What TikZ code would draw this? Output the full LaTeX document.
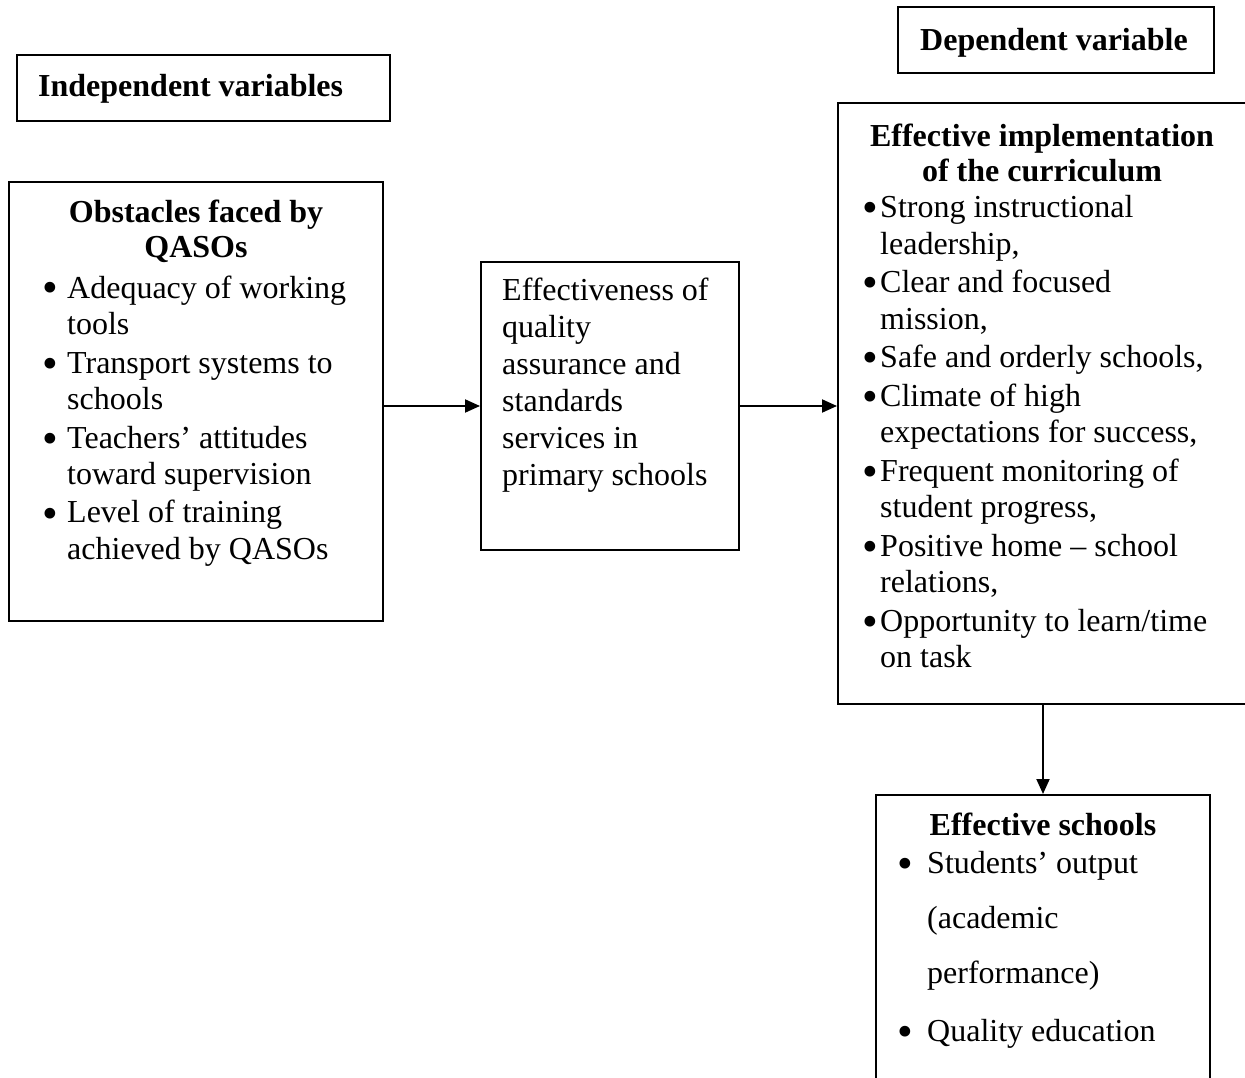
\documentclass[tikz,border=0pt]{standalone}
\usepackage{fontspec}
\usepackage{graphicx}
\setmainfont{Liberation Serif}
\usetikzlibrary{arrows.meta}
\newcommand{\bigbul}{\raisebox{-5pt}{\scalebox{1.4}{\textbullet}}}
\newcommand{\bx}[2]{\makebox[#1][l]{\hspace{-3pt}\bigbul}#2}
\begin{document}
\begin{tikzpicture}[x=1pt,y=-1pt,
  frame/.style={draw,line width=2pt,inner sep=0pt},
  txt/.style={inner sep=0pt,anchor=base west},
  ttl/.style={inner sep=0pt,anchor=base},
  conn/.style={line width=2pt,-{Triangle[length=15pt,width=13pt]}}]
\useasboundingbox (0,0) rectangle (1245,1078);
\clip (0,0) rectangle (1245,1078);
\fill[white] (0,0) rectangle (1245,1078);
% boxes
\node[frame,minimum width=373pt,minimum height=66pt] (indep) at (203.5,88) {};
\node[frame,minimum width=316pt,minimum height=66pt] (dep) at (1056,40) {};
\node[frame,minimum width=374pt,minimum height=439pt] (obs) at (196,401.5) {};
\node[frame,minimum width=258pt,minimum height=288pt] (mid) at (610,406) {};
\node[frame,minimum width=408pt,minimum height=601pt] (impl) at (1042,403.5) {};
\node[frame,minimum width=334pt,minimum height=305pt] (eff) at (1043,947.5) {};
% texts
\node[txt,font=\fontsize{32}{36}\selectfont\bfseries] (indepT) at (38,97) {Independent variables};
\node[txt,font=\fontsize{32}{36}\selectfont\bfseries] (depT) at (920,51) {Dependent variable};
\node[ttl,font=\fontsize{32}{35}\selectfont\bfseries] (obsT) at (196,223)
  {\begin{tabular}[t]{@{}c@{}}Obstacles faced by\\ QASOs\end{tabular}};
\node[txt,font=\fontsize{32}{36.5}\selectfont] (obsL) at (45,298)
  {\begin{tabular}[t]{@{}l@{}}
   \bx{22pt}{Adequacy of working}\\ \hspace{22pt}tools\\[2pt]
   \bx{22pt}{Transport systems to}\\ \hspace{22pt}schools\\[2pt]
   \bx{22pt}{Teachers’ attitudes}\\ \hspace{22pt}toward supervision\\[2pt]
   \bx{22pt}{Level of training}\\ \hspace{22pt}achieved by QASOs
   \end{tabular}};
\node[txt,font=\fontsize{32}{37}\selectfont] (midT) at (502,300)
  {\begin{tabular}[t]{@{}l@{}}Effectiveness of\\ quality\\ assurance and\\ standards\\ services in\\ primary schools\end{tabular}};
\node[ttl,font=\fontsize{32}{35}\selectfont\bfseries] (implT) at (1042,147)
  {\begin{tabular}[t]{@{}c@{}}Effective implementation\\ of the curriculum\end{tabular}};
\node[txt,font=\fontsize{32}{36.5}\selectfont] (implL) at (865,218)
  {\begin{tabular}[t]{@{}l@{}}
   \bx{15pt}{Strong instructional}\\ \hspace{15pt}leadership,\\[2pt]
   \bx{15pt}{Clear and focused}\\ \hspace{15pt}mission,\\[2pt]
   \bx{15pt}{Safe and orderly schools,}\\[2pt]
   \bx{15pt}{Climate of high}\\ \hspace{15pt}expectations for success,\\[2pt]
   \bx{15pt}{Frequent monitoring of}\\ \hspace{15pt}student progress,\\[2pt]
   \bx{15pt}{Positive home – school}\\ \hspace{15pt}relations,\\[2pt]
   \bx{15pt}{Opportunity to learn/time}\\ \hspace{15pt}on task
   \end{tabular}};
\node[ttl,font=\fontsize{32}{36}\selectfont\bfseries] (effT) at (1043,835) {Effective schools};
\node[txt,font=\fontsize{32}{55}\selectfont] (effL) at (900,873)
  {\begin{tabular}[t]{@{}l@{}}
   \bx{27pt}{Students’ output}\\ \hspace{27pt}(academic\\ \hspace{27pt}performance)\\[3pt]
   \bx{27pt}{Quality education}
   \end{tabular}};
% connectors
\draw[conn] (obs.east |- mid.west) -- (mid.west);
\draw[conn] (mid.east) -- (mid.east -| impl.west);
\draw[conn] (impl.south -| eff.north) -- (eff.north);
\end{tikzpicture}
\end{document}
